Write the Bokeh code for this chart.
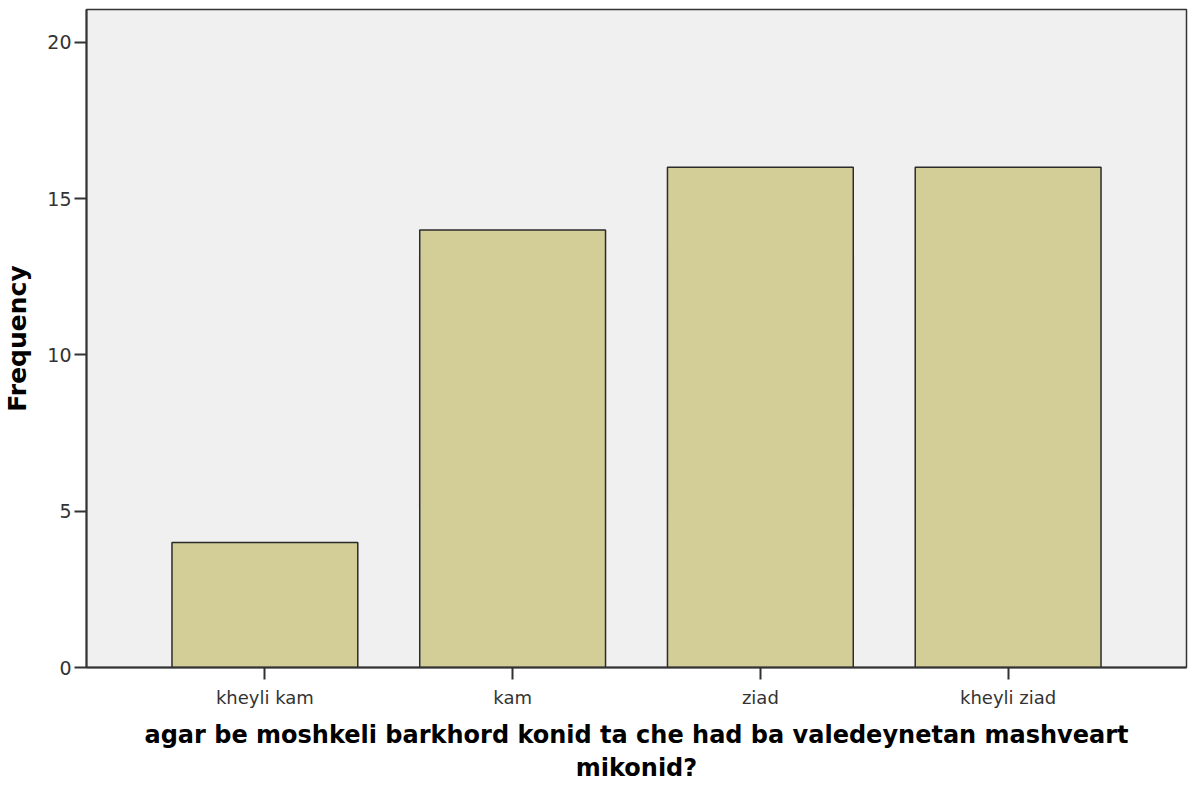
from bokeh.plotting import figure
from bokeh.models import FactorRange, Range1d, FixedTicker, ColumnDataSource
from bokeh.embed import file_html
from bokeh.resources import INLINE

categories = ["kheyli kam", "kam", "ziad", "kheyli ziad"]
frequency = [4, 14, 16, 16]
y_ticks = [0, 5, 10, 15, 20]

x_title = "agar be moshkeli barkhord konid ta che had ba valedeynetan mashveart\nmikonid?"
y_title = "Frequency"

src = ColumnDataSource(dict(cat=categories, freq=frequency))

p = figure(
    width=1190, height=786,
    x_range=FactorRange(factors=categories, range_padding=0.22, range_padding_units="absolute"),
    y_range=Range1d(0, 21.05),
    output_backend="svg", toolbar_location=None,
    min_border_left=86, min_border_top=9, min_border_right=4, min_border_bottom=119,
)
p.background_fill_color = "#F0F0F0"
p.border_fill_color = "white"
p.outline_line_color = "#333333"
p.outline_line_width = 1.5
p.grid.visible = False

p.vbar(x="cat", top="freq", width=0.75, source=src,
       fill_color="#D3CE97", line_color="#2b2b2b", line_width=1.5)

p.yaxis.ticker = FixedTicker(ticks=y_ticks)
p.yaxis.minor_tick_line_color = None
for ax in (p.xaxis[0], p.yaxis[0]):
    ax.axis_line_color = "#333333"
    ax.axis_line_width = 2
    ax.major_tick_line_color = "#333333"
    ax.major_tick_line_width = 2
    ax.major_tick_in = 0
    ax.major_tick_out = 12
    ax.major_label_text_color = "#333333"
    ax.major_label_text_font = "DejaVu Sans"
    ax.axis_label_text_font = "DejaVu Sans"
    ax.axis_label_text_font_style = "bold"
    ax.axis_label_text_color = "black"

p.yaxis.major_label_text_font_size = "19px"
p.yaxis.major_label_standoff = 3
p.yaxis.axis_label = y_title
p.yaxis.axis_label_text_font_size = "25px"
p.yaxis.axis_label_standoff = 12

p.xaxis.major_label_text_font_size = "18px"
p.xaxis.major_label_standoff = 7
p.xaxis.axis_label = x_title
p.xaxis.axis_label_text_font_size = "24px"
p.xaxis.axis_label_standoff = 10

open("out.html", "w").write(file_html(p, INLINE))
